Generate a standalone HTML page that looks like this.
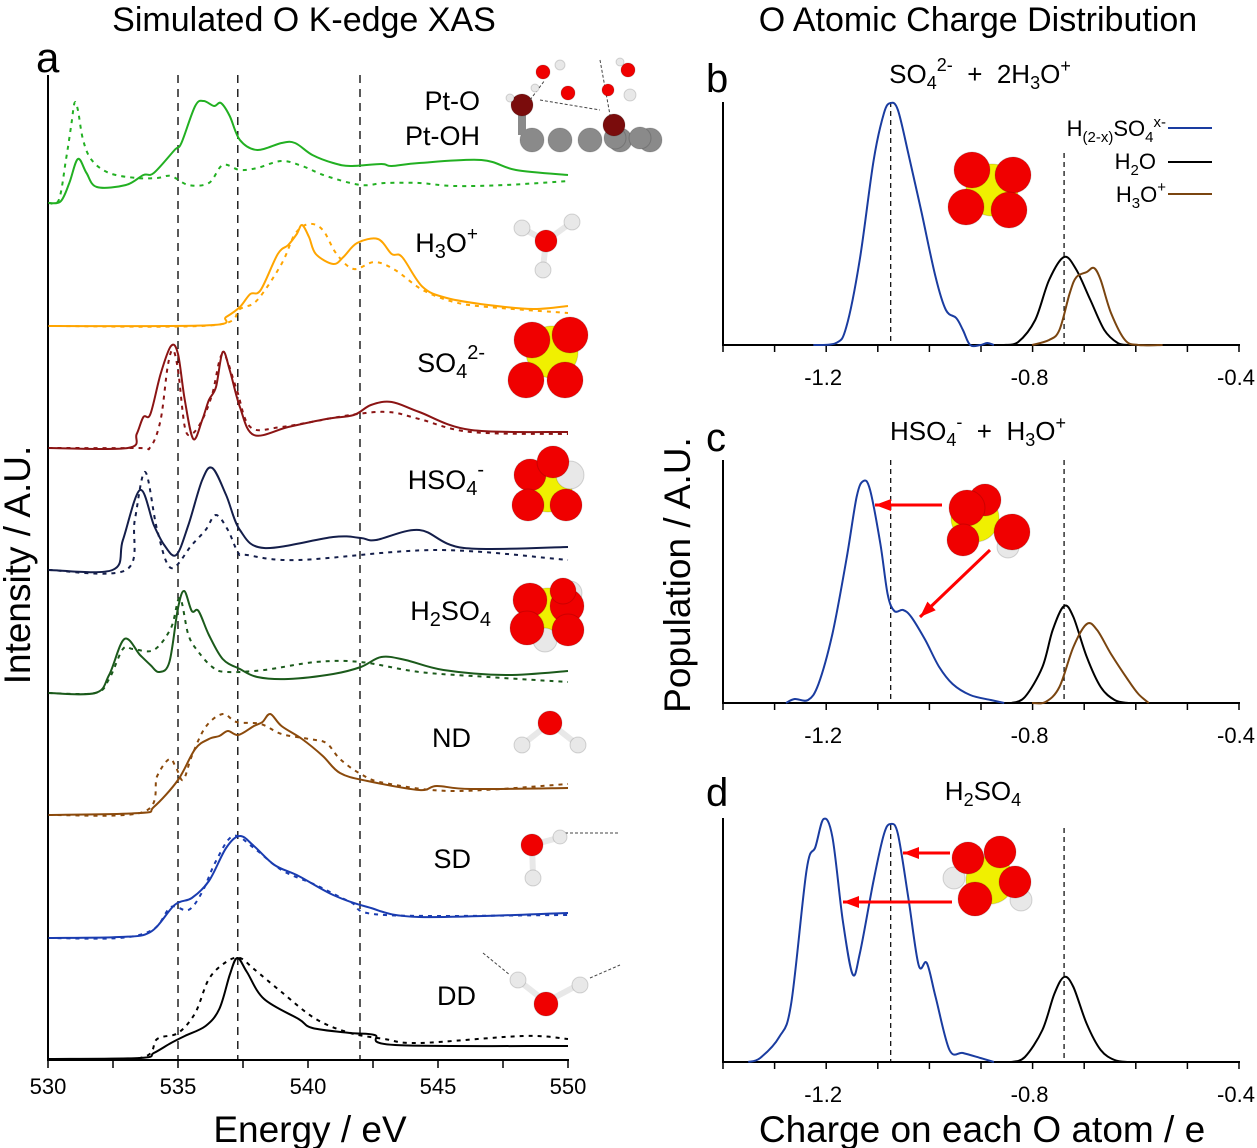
<!DOCTYPE html>
<html><head><meta charset="utf-8">
<style>
html,body{margin:0;padding:0;background:#fff;}
svg{display:block;font-family:"Liberation Sans",Arial,sans-serif;}
</style></head>
<body>
<svg id="fig" width="1257" height="1148" viewBox="0 0 1257 1148" xmlns="http://www.w3.org/2000/svg">
<text x="304" y="31" font-size="34" text-anchor="middle">Simulated O K-edge XAS</text>
<text x="978" y="31" font-size="34" text-anchor="middle">O Atomic Charge Distribution</text>
<text x="36" y="72" font-size="42">a</text>
<text x="706" y="92" font-size="40">b</text>
<text x="706" y="451" font-size="40">c</text>
<text x="706" y="806" font-size="40">d</text>
<text transform="translate(30,565) rotate(-90)" font-size="37" text-anchor="middle">Intensity / A.U.</text>
<text transform="translate(690,575) rotate(-90)" font-size="37" text-anchor="middle">Population / A.U.</text>
<text x="310" y="1142" font-size="37" text-anchor="middle">Energy / eV</text>
<text x="982" y="1142" font-size="37" text-anchor="middle">Charge on each O atom / e</text>

<g font-size="27" text-anchor="end">
<text x="480" y="110">Pt-O</text>
<text x="480" y="145">Pt-OH</text>
<text x="478" y="252">H<tspan font-size="20" dy="6">3</tspan><tspan dy="-6">O</tspan><tspan font-size="19" dy="-12">+</tspan></text>
<text x="485" y="372">SO<tspan font-size="20" dy="6">4</tspan><tspan font-size="20" dy="-19">2-</tspan></text>
<text x="484" y="489">HSO<tspan font-size="20" dy="6">4</tspan><tspan font-size="20" dy="-19">-</tspan></text>
<text x="491" y="620">H<tspan font-size="20" dy="6">2</tspan><tspan dy="-6">SO</tspan><tspan font-size="20" dy="6">4</tspan></text>
<text x="471" y="747">ND</text>
<text x="471" y="868">SD</text>
<text x="476" y="1005">DD</text>
</g>
<g font-size="26" text-anchor="middle">
<text x="980" y="83">SO<tspan font-size="18" dy="6">4</tspan><tspan font-size="18" dy="-18">2-</tspan><tspan dy="12" xml:space="preserve">  +  2H</tspan><tspan font-size="18" dy="6">3</tspan><tspan dy="-6">O</tspan><tspan font-size="18" dy="-11">+</tspan></text>
<text x="978" y="440">HSO<tspan font-size="18" dy="6">4</tspan><tspan font-size="18" dy="-18">-</tspan><tspan dy="12" xml:space="preserve">  +  H</tspan><tspan font-size="18" dy="6">3</tspan><tspan dy="-6">O</tspan><tspan font-size="18" dy="-11">+</tspan></text>
<text x="983" y="800">H<tspan font-size="18" dy="6">2</tspan><tspan dy="-6">SO</tspan><tspan font-size="18" dy="6">4</tspan></text>
</g>
<g id="legend" font-size="22" text-anchor="end">
<text x="1166" y="136">H<tspan font-size="15" dy="6">(2-x)</tspan><tspan dy="-6">SO</tspan><tspan font-size="15" dy="6">4</tspan><tspan font-size="15" dy="-15">x-</tspan></text>
<line x1="1168" y1="128" x2="1212" y2="128" stroke="#1a3ca0" stroke-width="2"/>
<text x="1156" y="169">H<tspan font-size="15" dy="6">2</tspan><tspan dy="-6">O</tspan></text>
<line x1="1168" y1="162" x2="1212" y2="162" stroke="#000" stroke-width="2"/>
<text x="1166" y="202">H<tspan font-size="15" dy="6">3</tspan><tspan dy="-6">O</tspan><tspan font-size="15" dy="-10">+</tspan></text>
<line x1="1168" y1="194" x2="1212" y2="194" stroke="#7a4510" stroke-width="2"/>
</g>
<g id="plots"></g>
<g id="mols"></g>
</svg>
<script>
// ---------- Panel a data (energy eV, intensity above baseline) ----------
const ptoE=[530.02,530.49,530.82,531.15,531.48,531.88,533.0,533.67,534.07,534.87,535.13,535.66,535.99,536.39,536.65,536.99,537.38,538.05,538.98,539.5,540.17,540.97,541.63,542.82,543.22,544.28,546.67,548.0,550];
const ptoI=[0,1.7,20,44,30,16,18,28,30,53,60,97,102,97,100,87,63,53,60,60,48,40,37,39,37,40,43,33,28];
const ptohE=[530.02,530.42,530.69,530.89,531.02,531.15,531.35,531.68,532.35,533.41,534.2,534.73,535.4,536.19,536.72,537.38,538.05,538.98,539.77,540.7,542.03,542.95,544.28,545.61,547.6,550];
const ptohI=[0,3.3,43,77,100,93,63,43,30,25,25,27,18,20,38,33,35,42,37,27,18,20,20,17,18,22];
const h3oE=[530.02,536.19,536.85,537.38,537.78,538.18,538.84,539.24,539.57,539.77,540.04,540.3,540.97,541.36,541.89,542.69,543.22,543.62,544.41,545.34,546.93,548.66,550];
const h3oI=[0,0.7,9,19,32,36,72,81,92,101,89,72,62,69,83,87,72,69,39,28,21,17,20];
const h3odE=[530.02,536.32,537.38,538.05,538.98,539.5,540.04,540.57,541.1,541.76,542.56,543.35,544.41,545.61,546.93,550];
const h3odI=[0,0.7,17,26,62,92,102,96,72,57,64,56,36,24,19,13];
const so4E=[530.02,533.07,533.41,533.67,533.94,534.33,534.73,535.0,535.26,535.59,535.93,536.19,536.46,536.72,536.99,537.38,537.92,539.24,540.7,541.76,542.42,543.22,544.28,546.27,550];
const so4I=[0,0,14,31,34,74,102,94,48,9,28,48,61,96,78,41,13,21,29,33,43,46,36,18,16];
const so4dE=[530.02,533.41,533.94,534.33,534.6,534.8,535.0,535.26,535.53,535.93,536.32,536.72,537.25,537.78,538.98,541.63,543.09,544.28,546.27,550];
const so4dI=[0,0,1,28,81,98,78,21,14,28,54,94,59,21,21,33,36,29,16,14];
const hso4E=[530.02,532.48,532.88,533.54,534.07,534.47,534.93,535.4,535.93,536.32,536.85,537.38,538.31,540.97,542.03,542.62,544.28,546.0,550];
const hso4I=[0,0,30,80,45,25,15,45,90,102,75,40,22,33,32,30,40,22,23];
const hso4dE=[530.02,533.0,533.34,533.74,534.2,534.73,535.53,536.06,536.46,536.92,537.32,537.65,539.64,544.95,550];
const hso4dI=[0,0,50,98,40,2,25,40,55,40,17,15,10,20,10];
const h2so4E=[530.02,531.82,532.35,532.94,533.54,533.94,534.27,534.67,535.0,535.24,535.53,535.79,536.19,536.72,537.38,538.05,539.24,540.97,542.03,542.82,543.75,545.21,547.6,550];
const h2so4I=[0,0,18,54,38,28,21,31,85,102,82,82,58,34,24,16,14,19,26,36,33,23,18,22];
const h2so4dE=[530.02,531.82,532.35,532.88,533.27,534.07,534.73,535.07,535.4,535.79,536.32,536.85,538.31,540.3,542.03,544.28,546.93,550];
const h2so4dI=[0,0,14,44,44,43,65,95,58,41,26,21,23,31,31,21,16,11];
const ndE=[530.02,533.54,534.07,535.0,535.66,536.19,536.59,536.92,537.32,537.92,538.25,538.55,538.98,539.77,540.57,541.23,542.29,544.28,544.95,546.27,550];
const ndI=[0,2,8,35,66,76,79,84,80,89,93,101,89,76,59,42,34,25,29,26,27];
const nddE=[530.02,533.67,534.2,534.67,534.93,535.2,535.53,536.06,536.72,537.25,538.18,538.98,540.04,540.7,541.23,542.03,542.95,545.61,550];
const nddI=[0,3,39,56,47,35,59,88,101,93,91,81,76,72,56,41,32,24,31];
const sdE=[530.02,532.74,533.94,534.87,535.53,536.19,536.85,537.38,537.92,538.71,539.64,540.97,542.29,544.28,550];
const sdI=[0,1,6,33,40,57,90,102,92,73,62,43,31,21,25];
const sddE=[530.02,532.74,534.07,534.73,535.4,535.93,536.46,537.12,537.92,538.98,540.3,541.63,542.95,550];
const sddI=[0,0,9,31,28,46,77,102,90,68,53,36,23,23];
const ddE=[530.02,533.54,534.07,534.73,535.26,536.06,536.59,536.99,537.28,537.65,538.31,539.64,540.17,541.63,542.56,543.35,550];
const ddI=[0,1,6,16,23,33,50,84,101,87,60,40,31,26,24,14,13];
const dddE=[530.02,533.54,534.2,535.0,535.66,536.19,536.85,537.38,537.92,538.98,540.3,541.63,542.95,544.28,548.27,550];
const dddI=[0,1,20,26,46,80,97,101,90,67,40,26,20,16,23,20];
const xasTicks=[530,535,540,545,550];
const xasDashed=[535.0,537.3,542.0];

// ---------- Panels b,c,d data (charge e, population) ----------
const bBlueQ=[-1.225,-1.181,-1.161,-1.135,-1.108,-1.088,-1.075,-1.061,-1.041,-1.015,-0.988,-0.968,-0.948,-0.935,-0.921,-0.901,-0.888,-0.875];
const bBlueP=[0,2,18,85,185,232,242,235,192,132,68,35,27,15,0,0,2,0];
const bBlackQ=[-0.855,-0.828,-0.795,-0.768,-0.739,-0.715,-0.688,-0.661,-0.635,-0.615];
const bBlackP=[0,3,25,65,88,75,45,15,2,0];
const bBrownQ=[-0.801,-0.768,-0.748,-0.728,-0.715,-0.695,-0.681,-0.668,-0.648,-0.621,-0.595,-0.548];
const bBrownP=[0,5,15,52,68,73,77,65,32,5,0,0];
const cBlueQ=[-1.278,-1.261,-1.235,-1.215,-1.188,-1.161,-1.141,-1.128,-1.115,-1.095,-1.081,-1.068,-1.051,-1.035,-1.008,-0.981,-0.955,-0.921,-0.881,-0.855];
const cBlueP=[0,4,3,19,69,143,206,222,213,159,109,92,93,86,63,36,19,8,3,0];
const cBlackQ=[-0.841,-0.815,-0.781,-0.761,-0.739,-0.721,-0.695,-0.668,-0.641,-0.615];
const cBlackP=[0,6,36,73,97,86,46,16,3,0];
const cBrownQ=[-0.801,-0.775,-0.748,-0.721,-0.695,-0.675,-0.648,-0.615,-0.595,-0.575];
const cBrownP=[0,1,16,56,79,73,49,23,9,0];
const dBlueQ=[-1.351,-1.328,-1.291,-1.268,-1.238,-1.221,-1.205,-1.188,-1.168,-1.149,-1.135,-1.108,-1.088,-1.075,-1.061,-1.041,-1.021,-1.005,-0.988,-0.961,-0.935,-0.901,-0.875];
const dBlueP=[0,4,25,58,192,215,243,225,142,88,108,182,228,238,228,165,97,99,65,12,9,4,0];
const dBlackQ=[-0.841,-0.815,-0.781,-0.758,-0.739,-0.721,-0.695,-0.668,-0.641,-0.615];
const dBlackP=[0,5,32,68,85,75,38,12,2,0];
const chargeTicks=[-1.2,-0.8,-0.4];
const chargeDashed=[-1.075,-0.739];

const NS="http://www.w3.org/2000/svg";
const plots=document.getElementById('plots');
function mk(tag,attrs,parent){const e=document.createElementNS(NS,tag);for(const k in attrs)e.setAttribute(k,attrs[k]);(parent||plots).appendChild(e);return e;}
function smoothPath(pts){
  let d="M"+pts[0][0].toFixed(1)+","+pts[0][1].toFixed(1);
  for(let i=0;i<pts.length-1;i++){
    const p0=pts[Math.max(0,i-1)],p1=pts[i],p2=pts[i+1],p3=pts[Math.min(pts.length-1,i+2)];
    const c1=[p1[0]+(p2[0]-p0[0])/6,p1[1]+(p2[1]-p0[1])/6];
    const c2=[p2[0]-(p3[0]-p1[0])/6,p2[1]-(p3[1]-p1[1])/6];
    d+="C"+c1[0].toFixed(1)+","+c1[1].toFixed(1)+" "+c2[0].toFixed(1)+","+c2[1].toFixed(1)+" "+p2[0].toFixed(1)+","+p2[1].toFixed(1);
  }
  return d;
}
const xE=e=>48+(e-530)*26;
const yA=(base,v)=>base-v;
let el;
el=mk('line',{x1:48,y1:75,x2:48,y2:1060,stroke:'#000','stroke-width':2});


el=mk('line',{x1:47,y1:1060,x2:569,y2:1060,stroke:'#000','stroke-width':2});


for(let e=530;e<=550;e+=2.5){
  el=mk('line',{x1:xE(e),y1:1060,x2:xE(e),y2:1068,stroke:'#000','stroke-width':1.5});
  
  
}
xasTicks.forEach(t=>{
  el=mk('text',{x:xE(t),y:1094,'font-size':22,'text-anchor':'middle'});
  el.textContent=t;
  
  
});
xasDashed.forEach(t=>{
  el=mk('line',{x1:xE(t),y1:75,x2:xE(t),y2:1060,stroke:'#000','stroke-width':1.3,'stroke-dasharray':'8,6'});
  
  
});
const spectra=[
 [ptoE,ptoI,203,'#22b022',false,'spectrum-pt-o'],[ptohE,ptohI,203,'#22b022',true,'spectrum-pt-oh'],
 [h3oE,h3oI,326,'#ffa500',false,'spectrum-h3o-solid'],[h3odE,h3odI,326,'#ffa500',true,'spectrum-h3o-dashed'],
 [so4E,so4I,448,'#8b1414',false,'spectrum-so4-solid'],[so4dE,so4dI,448,'#8b1414',true,'spectrum-so4-dashed'],
 [hso4E,hso4I,570,'#141e4a',false,'spectrum-hso4-solid'],[hso4dE,hso4dI,570,'#141e4a',true,'spectrum-hso4-dashed'],
 [h2so4E,h2so4I,693,'#1b5a1b',false,'spectrum-h2so4-solid'],[h2so4dE,h2so4dI,693,'#1b5a1b',true,'spectrum-h2so4-dashed'],
 [ndE,ndI,815,'#8b4a0c',false,'spectrum-nd-solid'],[nddE,nddI,815,'#8b4a0c',true,'spectrum-nd-dashed'],
 [sdE,sdI,938,'#1a3cb0',false,'spectrum-sd-solid'],[sddE,sddI,938,'#1a3cb0',true,'spectrum-sd-dashed'],
 [ddE,ddI,1059,'#000',false,'spectrum-dd-solid'],[dddE,dddI,1059,'#000',true,'spectrum-dd-dashed']
];
spectra.forEach(s=>{
  const pts=s[0].map((e,i)=>[xE(e),yA(s[2],s[1][i])]);
  const a={d:smoothPath(pts),fill:'none',stroke:s[3],'stroke-width':2};
  if(s[4])a['stroke-dasharray']='4,5';
  el=mk('path',a);
  
  
});
const xQ=q=>723+(q+1.4)*516;
const panels=[
 {base:345,top:102,dtop:[102,153],name:'b',series:[[bBlueQ,bBlueP,'#1a3ca0','sulfate'],[bBlackQ,bBlackP,'#000','h2o'],[bBrownQ,bBrownP,'#7a4510','h3o']]},
 {base:703,top:460,dtop:[460,460],name:'c',series:[[cBlueQ,cBlueP,'#1a3ca0','sulfate'],[cBlackQ,cBlackP,'#000','h2o'],[cBrownQ,cBrownP,'#7a4510','h3o']]},
 {base:1062,top:818,dtop:[825,828],name:'d',series:[[dBlueQ,dBlueP,'#1a3ca0','sulfate'],[dBlackQ,dBlackP,'#000','h2o']]}
];
panels.forEach(p=>{
  el=mk('line',{x1:723,y1:p.top,x2:723,y2:p.base,stroke:'#000','stroke-width':2});
  
  
  el=mk('line',{x1:722,y1:p.base,x2:1240,y2:p.base,stroke:'#000','stroke-width':2});
  
  
  for(let q=-1.4;q<=-0.399;q+=0.1){
    el=mk('line',{x1:xQ(q),y1:p.base,x2:xQ(q),y2:p.base+7,stroke:'#000','stroke-width':1.5});
    
    
  }
  chargeTicks.forEach(t=>{
    el=mk('text',{x:xQ(t)-3,y:p.base+40,'font-size':22,'text-anchor':'middle'});
    el.textContent=t.toFixed(1);
    
    
  });
  chargeDashed.forEach((t,i)=>{
    el=mk('line',{x1:xQ(t),y1:p.dtop[i],x2:xQ(t),y2:p.base,stroke:'#000','stroke-width':1.2,'stroke-dasharray':'5,4'});
    
    
  });
  p.series.forEach(s=>{
    const pts=s[0].map((q,i)=>[xQ(q),p.base-s[1][i]]);
    el=mk('path',{d:smoothPath(pts),fill:'none',stroke:s[2],'stroke-width':2});
    
    
  });
});
const mols=document.getElementById('mols');
function ball(cx,cy,r,col,name){
  const e=mk('circle',{cx:cx,cy:cy,r:r,fill:col,stroke:'rgba(0,0,0,0.15)','stroke-width':1},mols);
  
  
}
function bond(x1,y1,x2,y2,col,w){
  const e=mk('line',{x1:x1,y1:y1,x2:x2,y2:y2,stroke:col,'stroke-width':w||6},mols);
  
  
}
function dline(x1,y1,x2,y2){
  const e=mk('line',{x1:x1,y1:y1,x2:x2,y2:y2,stroke:'#444','stroke-width':1,'stroke-dasharray':'3,2'},mols);
  
  
}
const R='#f00000',Y='#f0f000',W='#e8e8e8',G='#8a8a8a',DR='#7a0c0c';
[532,560,590,620,650].forEach(x=>ball(x,140,12,G,'pt-atom'));
[615,640].forEach(x=>ball(x,138,11,G,'pt-atom'));
bond(522,115,522,135,G,8);bond(614,122,614,132,G,8);
ball(522,105,11,DR,'surface-oxygen');ball(614,125,11,DR,'surface-oxygen');
ball(510,98,4,W,'h-atom');
dline(530,100,545,80);dline(540,100,600,110);dline(600,60,610,115);
ball(543,72,7,R,'water-o');ball(568,93,7,R,'water-o');ball(628,70,7,R,'water-o');ball(608,90,6,R,'water-o');ball(630,95,6,W,'h-atom');ball(560,65,5,W,'h-atom');ball(535,88,4,W,'h-atom');ball(620,62,4,W,'h-atom');
bond(546,241,522,228,W,6);bond(546,241,572,222,W,6);bond(546,241,543,268,W,6);
ball(522,228,8,W,'h-atom');ball(572,222,8,W,'h-atom');ball(543,270,8,W,'h-atom');ball(546,241,11,R,'o-atom');
ball(552,352,26,Y,'s-atom');ball(532,340,18,R,'o-atom');ball(570,335,18,R,'o-atom');ball(526,380,18,R,'o-atom');ball(565,380,18,R,'o-atom');
ball(548,488,24,Y,'s-atom');ball(530,475,16,R,'o-atom');ball(570,475,14,W,'h-atom');ball(553,462,16,R,'o-atom');ball(528,505,16,R,'o-atom');ball(566,505,16,R,'o-atom');
ball(548,612,24,Y,'s-atom');ball(570,593,12,W,'h-atom');ball(545,640,12,W,'h-atom');ball(530,600,17,R,'o-atom');ball(567,606,17,R,'o-atom');ball(563,591,13,R,'o-atom');ball(527,628,17,R,'o-atom');ball(568,630,16,R,'o-atom');
bond(550,723,522,745,W,6);bond(550,723,578,745,W,6);
ball(522,745,8,W,'h-atom');ball(578,745,8,W,'h-atom');ball(550,723,12,R,'o-atom');
bond(532,845,558,838,W,6);bond(532,845,533,875,W,6);dline(565,833,620,833);
ball(560,837,7,W,'h-atom');ball(533,878,8,W,'h-atom');ball(532,845,11,R,'o-atom');
dline(483,953,510,975);dline(590,978,620,965);
bond(546,1002,518,980,W,6);bond(546,1002,578,985,W,6);
ball(518,980,8,W,'h-atom');ball(580,985,8,W,'h-atom');ball(546,1004,12,R,'o-atom');
ball(992,190,26,Y,'s-atom');ball(972,170,18,R,'o-atom');ball(1013,175,18,R,'o-atom');ball(966,207,18,R,'o-atom');ball(1009,210,18,R,'o-atom');
ball(975,518,24,Y,'s-atom');ball(985,500,16,R,'o-atom');ball(1008,547,11,W,'h-atom');ball(967,508,18,R,'o-atom');ball(1012,532,18,R,'o-atom');ball(963,540,16,R,'o-atom');
ball(990,880,24,Y,'s-atom');ball(954,878,11,W,'h-atom');ball(1021,900,11,W,'h-atom');ball(968,858,16,R,'o-atom');ball(1000,852,16,R,'o-atom');ball(1015,882,16,R,'o-atom');ball(975,899,17,R,'o-atom');
function arrow(x1,y1,x2,y2){
  const e=mk('line',{x1:x1,y1:y1,x2:x2,y2:y2,stroke:'#f00','stroke-width':3},mols);
  
  
  const ang=Math.atan2(y2-y1,x2-x1),L=16,Wd=6;
  const bx=x2-L*Math.cos(ang),by=y2-L*Math.sin(ang);
  const px=-Math.sin(ang)*Wd,py=Math.cos(ang)*Wd;
  const h=mk('polygon',{points:`${x2},${y2} ${bx+px},${by+py} ${bx-px},${by-py}`,fill:'#f00'},mols);
  
  
}
arrow(942,505,875,505);
arrow(990,550,920,617);
arrow(950,853,903,853);
arrow(952,902,843,902);
</script>
</body></html>
